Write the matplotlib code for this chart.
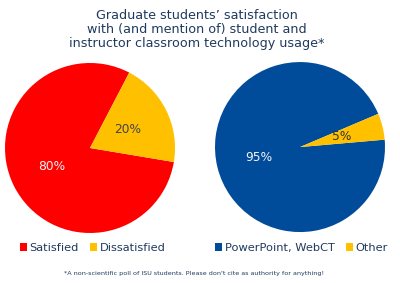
import matplotlib
matplotlib.use("Agg")
import matplotlib.pyplot as plt

# data
title = "Graduate students\u2019 satisfaction\nwith (and mention of) student and\ninstructor classroom technology usage*"
footnote = "*A non-scientific poll of ISU students. Please don't cite as authority for anything!"

sat_labels = ["Satisfied", "Dissatisfied"]
sat_values = [80, 20]
tech_labels = ["PowerPoint, WebCT", "Other"]
tech_values = [95, 5]

RED = "#FF0000"
YELLOW = "#FFC000"
BLUE = "#004C9B"
NAVY = "#1F3A5F"

plt.rcParams['font.family'] = ['DejaVu Sans']

fig = plt.figure(figsize=(4, 2.83), dpi=100)


def draw_pie(rect, values, colors, startangle, pct_colors):
    ax = fig.add_axes(rect)
    wedges, texts, autotexts = ax.pie(
        values, colors=colors, startangle=startangle,
        autopct='%d%%', pctdistance=0.5, radius=1,
        wedgeprops=dict(linewidth=0),
        textprops=dict(fontsize=8.8),
    )
    for t, c in zip(autotexts, pct_colors):
        t.set_color(c)
    ax.set_xlim(-1, 1)
    ax.set_ylim(-1, 1)
    ax.set_aspect('equal')
    ax.axis('off')
    return wedges


w1 = draw_pie([0.0125, 0.1767, 0.425, 0.6007], sat_values, [RED, YELLOW], 62.5,
              ["#F4F4F4", "#444444"])
w2 = draw_pie([0.5375, 0.180, 0.425, 0.6007], tech_values, [BLUE, YELLOW], 23,
              ["#F4F4F4", "#333333"])

fig.text(0.493, 1 - 9 / 283, title, ha='center', va='top', fontsize=9.2,
         color=NAVY, linespacing=1.1)

leg_kw = dict(loc='center left', ncol=2, frameon=False, handlelength=0.6,
              handleheight=0.6, handletextpad=0.25, columnspacing=1.0,
              borderpad=0, borderaxespad=0, fontsize=8.2, labelcolor=NAVY)
fig.legend(w1, sat_labels, bbox_to_anchor=(20 / 400, 1 - 248 / 283), **leg_kw)
fig.legend(w2, tech_labels, bbox_to_anchor=(215 / 400, 1 - 248 / 283), **leg_kw)

fig.text(0.484, 1 - 273 / 283, footnote, ha='center', va='center',
         fontsize=4.55, color=NAVY)

fig.savefig("out.png", dpi=100)
